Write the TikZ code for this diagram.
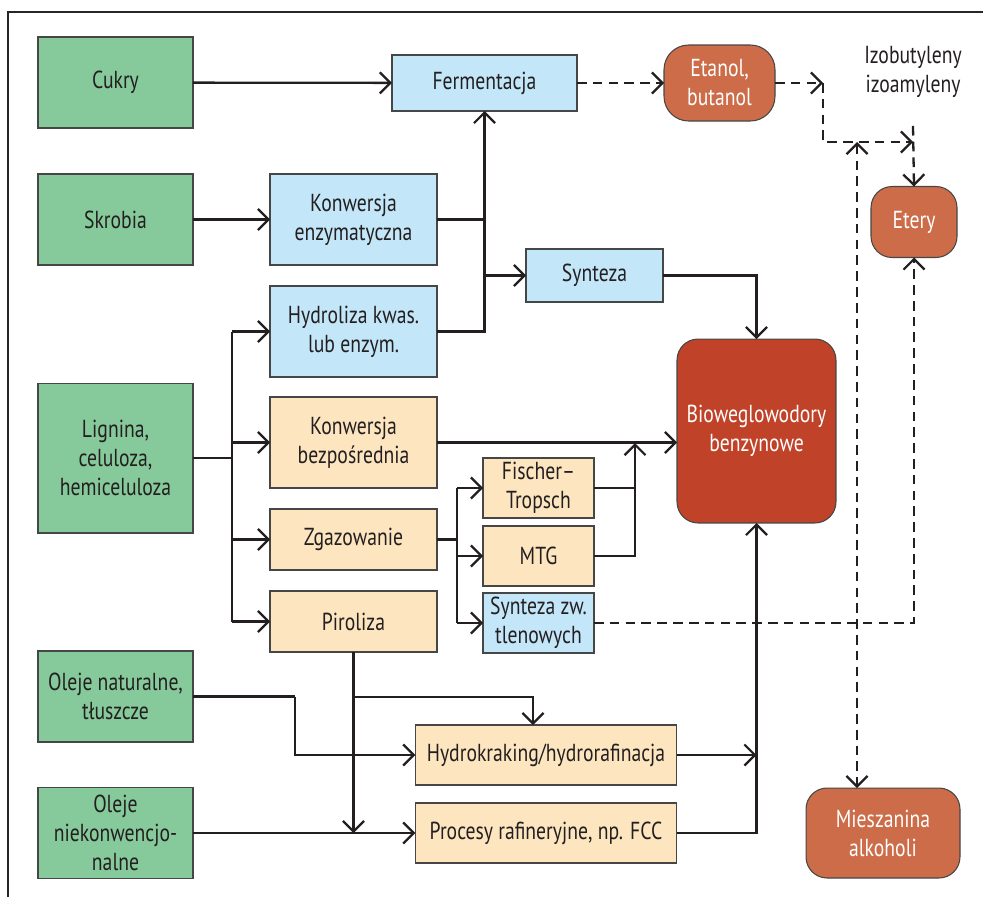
\documentclass[tikz,border=0pt]{standalone}
\usepackage{fontspec}
\setmainfont{PT Sans}[FakeStretch=0.8]
\usetikzlibrary{arrows.meta}

\definecolor{srcgreen}{RGB}{134,202,155}
\definecolor{procblue}{RGB}{195,231,249}
\definecolor{procpeach}{RGB}{253,229,191}
\definecolor{prodorange}{RGB}{205,108,72}
\definecolor{biored}{RGB}{192,66,40}
\definecolor{boxline}{RGB}{70,70,70}
\definecolor{linecol}{RGB}{35,31,32}

\tikzset{
    box/.style={draw=boxline, line width=0.6pt, align=center, outer sep=0pt,
        inner sep=2pt, text=linecol, font=\fontsize{14}{16.5}\selectfont},
    src/.style={box, fill=srcgreen, minimum width=3.1cm, minimum height=1.82cm},
    blueproc/.style={box, fill=procblue},
    peachproc/.style={box, fill=procpeach},
    midcol/.style={minimum width=3.34cm},
    prod/.style={box, fill=prodorange, text=white, rounded corners=12pt},
    tip/.tip={Straight Barb[length=6pt,width=12pt]},
    arr/.style={draw=linecol, line width=1.3pt, -tip},
    conn/.style={draw=linecol, line width=1.3pt},
    darr/.style={arr, dash pattern=on 5.5pt off 3.5pt},
    dconn/.style={conn, dash pattern=on 5.5pt off 3.5pt}
}

\begin{document}
\begin{tikzpicture}[x=0.02cm, y=-0.02cm]

    \useasboundingbox (0,0) rectangle (983,897);
    \draw[line width=0.6pt, black!85] (8,897) -- (8,12) -- (983,12);

    % surowce
    \node[src] (cukry) at (115.5,82.5) {Cukry};
    \node[src] (skrobia) at (115.5,219.5) {Skrobia};
    \node[src, minimum height=3cm] (lignina) at (115.5,458) {Lignina,\\celuloza,\\hemiceluloza};
    \node[src] (olejnat) at (115.5,696.5) {Oleje naturalne,\\tłuszcze};
    \node[src] (olejniek) at (115.5,833) {Oleje\\niekonwencjo-\\nalne};

    % procesy
    \node[blueproc, minimum width=3.7cm, minimum height=1.12cm] (ferm) at (484.5,83) {Fermentacja};
    \node[blueproc, midcol, minimum height=1.82cm] (konwenz) at (353.5,219.5) {Konwersja\\enzymatyczna};
    \node[blueproc, midcol, minimum height=1.82cm] (hydro) at (353.5,331.5) {Hydroliza kwas.\\lub enzym.};
    \node[blueproc, minimum width=2.74cm, minimum height=1.06cm] (synteza) at (594.5,275.5) {Synteza};
    \node[peachproc, midcol, minimum height=1.82cm] (konwbez) at (353.5,442.5) {Konwersja\\bezpośrednia};
    \node[peachproc, midcol, minimum height=1.22cm] (zgaz) at (353.5,539.5) {Zgazowanie};
    \node[peachproc, midcol, minimum height=1.22cm] (piro) at (353.5,621.5) {Piroliza};
    \node[peachproc, minimum width=2.22cm, minimum height=1.2cm] (ft) at (538.5,488) {Fischer–\\Tropsch};
    \node[peachproc, minimum width=2.22cm, minimum height=1.2cm] (mtg) at (538.5,556) {MTG};
    \node[blueproc, minimum width=2.22cm, minimum height=1.2cm] (szt) at (538.5,623) {Synteza zw.\\tlenowych};
    \node[peachproc, minimum width=5.23cm, minimum height=1.2cm] (hydrok) at (546,755) {Hydrokraking/hydrorafinacja};
    \node[peachproc, minimum width=5.23cm, minimum height=1.2cm] (proc) at (546,833) {Procesy rafineryjne, np. FCC};

    % produkty
    \node[prod, minimum width=2.22cm, minimum height=1.52cm, rounded corners=14pt] (etanol) at (719.5,83) {Etanol,\\butanol};
    \node[prod, minimum width=1.72cm, minimum height=1.42cm] (etery) at (914,222) {Etery};
    \node[prod, minimum width=3.08cm, minimum height=1.8cm] (miesz) at (883,833) {Mieszanina\\alkoholi};
    \node[box, fill=biored, text=white, rounded corners=12pt, minimum width=3.18cm, minimum height=3.68cm] (bio) at (756.5,431) {Bioweglowodory\\benzynowe};
    \node[font=\fontsize{14}{16.5}\selectfont, text=linecol, align=center] (izo) at (913,72) {Izobutyleny\\izoamyleny};

    % punkty pomocnicze
    \coordinate (fj) at (ferm.south |- hydro.east);
    \coordinate (lj) at (232,458);
    \coordinate (zj) at (457,539.5);
    \coordinate (ftj) at (635,443);
    \coordinate (ecorner) at (823,83);
    \coordinate (emeet) at (913,142);
    \coordinate (mix) at (857,142);
    \coordinate (onbend) at (295,696.5);
    \coordinate (pj) at (piro.south |- 0,697);
    \coordinate (hkj) at (533,697);

    % polaczenia
    \draw[arr] (cukry) -- (ferm);
    \draw[arr] (skrobia) -- (konwenz);
    \draw[conn] (konwenz.east) -- (konwenz.east -| fj);
    \draw[arr] (hydro.east) -- (fj) -- (ferm.south);
    \draw[arr] (fj |- synteza.west) -- (synteza.west);
    \draw[arr] (synteza.east) -| (bio.north);

    \draw[conn] (lignina.east) -- (lj);
    \draw[conn] (lj |- hydro.west) -- (lj |- piro.west);
    \foreach \n in {hydro,konwbez,zgaz,piro}
        \draw[arr] (lj |- \n.west) -- (\n.west);

    \draw[arr] (konwbez.east) -- (konwbez.east -| bio.west);
    \draw[conn] (zgaz.east) -- (zj);
    \draw[conn] (zj |- ft.west) -- (zj |- szt.west);
    \foreach \n in {ft,mtg,szt}
        \draw[arr] (zj |- \n.west) -- (\n.west);
    \draw[conn] (ft.east) -- (ft.east -| ftj);
    \draw[arr] (mtg.east) -| (ftj);

    \draw[darr] (ferm) -- (etanol);
    \draw[darr] (etanol.east) -- (ecorner);
    \draw[darr] (ecorner) |- (emeet);
    \draw[darr] (izo.south) ++(0,22) -- (etery.north);
    \draw[darr] (szt.east) -| (etery.south);
    \draw[darr, tip-tip] (mix) -- (mix |- miesz.north);

    \draw[conn] (olejnat.east) -- (onbend);
    \draw[arr] (onbend) |- (hydrok.west);
    \draw[arr] (olejniek) -- (proc);
    \draw[arr] (piro.south) -- (piro.south |- proc.west);
    \draw[arr] (pj) -| (hkj |- hydrok.north);
    \draw[arr] (hydrok.east) -- (hydrok.east -| bio.south);
    \draw[arr] (proc.east) -| (bio.south);

\end{tikzpicture}
\end{document}
